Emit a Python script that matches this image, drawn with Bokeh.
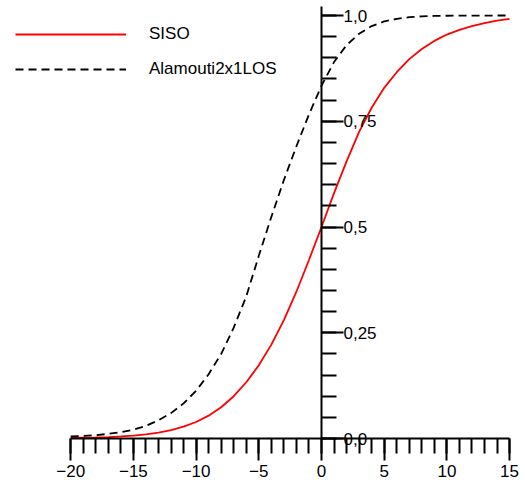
from bokeh.plotting import figure
from bokeh.models import LinearAxis, FixedTicker, Legend, LegendItem, Range1d
from bokeh.embed import file_html
from bokeh.resources import INLINE

# x values (dB)
x_vals = [-20, -19, -18, -17, -16, -15, -14, -13, -12, -11, -10, -9, -8, -7, -6, -5,
          -4, -3, -2, -1, 0, 1, 2, 3, 4, 5, 6, 7, 8, 9, 10, 11, 12, 13, 14, 15]

siso = [0.0012, 0.0018, 0.0025, 0.0035, 0.005, 0.007, 0.010, 0.014, 0.020, 0.028, 0.039,
        0.054, 0.074, 0.100, 0.133, 0.173, 0.222, 0.280, 0.347, 0.422, 0.500, 0.580,
        0.655, 0.725, 0.782, 0.829, 0.866, 0.897, 0.921, 0.940, 0.955, 0.966, 0.975,
        0.982, 0.988, 0.992]

alamouti = [0.005, 0.006, 0.008, 0.011, 0.015, 0.021, 0.030, 0.043, 0.060, 0.083, 0.113,
            0.152, 0.200, 0.262, 0.336, 0.432, 0.524, 0.611, 0.691, 0.766, 0.834, 0.890,
            0.930, 0.957, 0.975, 0.986, 0.992, 0.996, 0.998, 0.999, 0.9995, 0.9997,
            0.9998, 0.9999, 1.0, 1.0]

series_names = ["SISO", "Alamouti2x1LOS"]

x_major = [-20, -15, -10, -5, 0, 5, 10, 15]
x_labels = ["\u221220", "\u221215", "\u221210", "\u22125", "0", "5", "10", "15"]
y_major = [0.0, 0.25, 0.5, 0.75, 1.0]
y_labels = ["0,0", "0,25", "0,5", "0,75", "1,0"]

W, H = 525, 484
p = figure(width=W, height=H, output_backend="svg", toolbar_location=None,
           x_axis_location=None, y_axis_location=None,
           min_border_left=0, min_border_right=0, min_border_top=0, min_border_bottom=0)
p.x_range = Range1d(-25.60, 16.27)
p.y_range = Range1d(-0.1087, 1.0355)
p.grid.visible = False
p.outline_line_color = None
p.background_fill_color = "white"
p.border_fill_color = "white"

r1 = p.line(x_vals, siso, line_color="#ff0000", line_width=1.8)
r2 = p.line(x_vals, alamouti, line_color="black", line_width=1.8, line_dash="8 5")

font = "Liberation Sans"

xaxis = LinearAxis(fixed_location=0, bounds=(-20, 15))
xaxis.ticker = FixedTicker(ticks=x_major, minor_ticks=list(range(-20, 16)))
xaxis.major_label_overrides = {v: l for v, l in zip(x_major, x_labels)}
yaxis = LinearAxis(fixed_location=0, bounds=(0, 1.021))
yaxis.ticker = FixedTicker(ticks=y_major, minor_ticks=[round(i * 0.05, 2) for i in range(21)])
yaxis.major_label_overrides = {v: l for v, l in zip(y_major, y_labels)}

for ax in (xaxis, yaxis):
    ax.axis_line_width = 2
    ax.axis_line_color = "black"
    ax.major_tick_line_width = 2
    ax.minor_tick_line_width = 2
    ax.major_tick_line_color = "black"
    ax.minor_tick_line_color = "black"
    ax.major_tick_in = 0
    ax.minor_tick_in = 0
    ax.major_tick_out = 22
    ax.minor_tick_out = 15
    ax.major_label_text_font = font
    ax.major_label_text_font_size = "17px"
    ax.major_label_text_color = "black"
xaxis.major_label_standoff = 4
yaxis.major_label_standoff = 0

p.add_layout(xaxis, "below")
p.add_layout(yaxis, "right")

legend = Legend(items=[LegendItem(label=series_names[0], renderers=[r1]),
                       LegendItem(label=series_names[1], renderers=[r2])],
                location=(15, 405), margin=0, padding=0, spacing=15,
                glyph_width=111, glyph_height=20, label_height=20,
                label_standoff=23, label_text_font=font, label_text_font_size="17px",
                label_text_color="black",
                border_line_color=None, background_fill_alpha=0)
p.add_layout(legend, "center")

open("out.html", "w").write(file_html(p, INLINE))
